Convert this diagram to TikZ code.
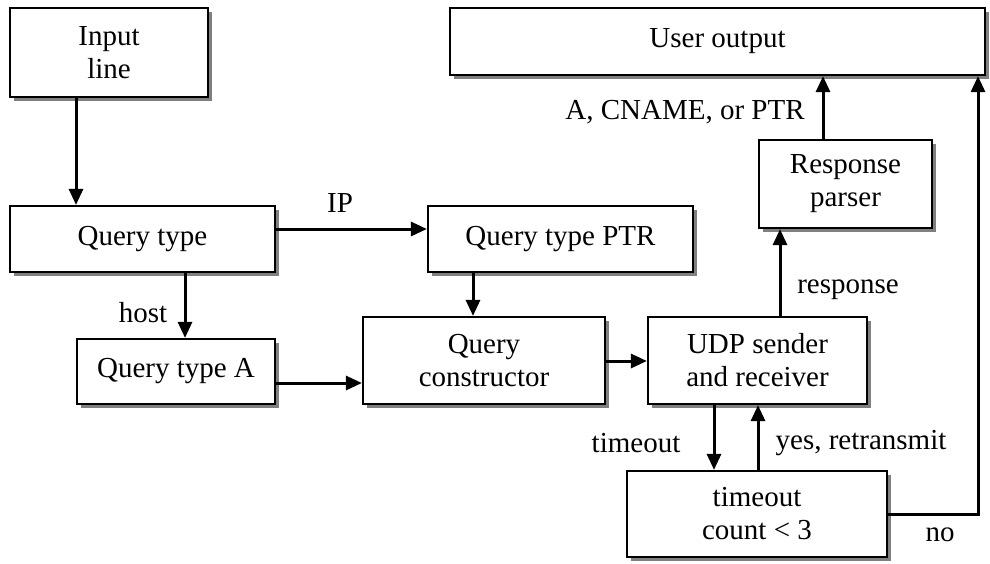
\documentclass[tikz,border=0pt]{standalone}
\usepackage{fontspec}
\setmainfont{Liberation Serif}
\usetikzlibrary{arrows.meta, shadows}

\begin{document}
\begin{tikzpicture}[x=1pt, y=-1pt, font=\fontsize{29}{33}\selectfont,
    blk/.style={draw, line width=2.2pt, fill=white, align=center, inner sep=0pt,
      drop shadow={shadow xshift=4pt, shadow yshift=-4pt, fill=black!50, opacity=1}},
    arr/.style={line width=3pt, -{Triangle[length=16pt, width=14pt]}},
    lbl/.style={inner sep=0pt}]
    \useasboundingbox (0,0) rectangle (990,563);
    \node[blk, minimum width=198pt, minimum height=89pt] (inp)   at (109,52.5)  {Input\\line};
    \node[blk, minimum width=535pt, minimum height=67pt] (uout)  at (717.5,41.5) {User output};
    \node[blk, minimum width=265pt, minimum height=66pt] (qtype) at (142.5,239) {Query type};
    \node[blk, minimum width=265pt, minimum height=66pt] (ptr)   at (560.5,239) {Query type PTR};
    \node[blk, minimum width=173pt, minimum height=88pt] (resp)  at (845.5,184) {Response\\parser};
    \node[blk, minimum width=198pt, minimum height=65pt] (qa)    at (176,371.5) {Query type A};
    \node[blk, minimum width=242pt, minimum height=87pt] (qcons) at (484,360.5) {Query\\constructor};
    \node[blk, minimum width=219pt, minimum height=87pt] (udp)   at (757.5,360.5) {UDP sender\\and receiver};
    \node[blk, minimum width=260pt, minimum height=86pt] (tout)  at (757,514) {timeout\\count < 3};
    % labels
    \node[lbl] (ipl)   at (340,203) {IP};
    \node[lbl] (hostl) at (143,313) {host};
    \node[lbl] (rrl)   at (685,112) {A, CNAME, or PTR};
    \node[lbl] (respl) at (848,290) {response};
    \node[lbl] (tol)   at (636,443) {timeout};
    \node[lbl] (yesl)  at (861,443) {yes, retransmit};
    \node[lbl] (nol)   at (940,535) {no};
    % connectors
    \draw[arr] (inp.south -| 76,0) -- (qtype.north -| 76,0);
    \draw[arr] (qtype.east |- 0,229) -- (ptr.west |- 0,229);
    \draw[arr] (qtype.south -| 185,0) -- (qa.north -| 185,0);
    \draw[arr] (qa.east |- 0,383) -- (qcons.west |- 0,383);
    \draw[arr] (ptr.south -| 473,0) -- (qcons.north -| 473,0);
    \draw[arr] (qcons.east |- 0,361) -- (udp.west |- 0,361);
    \draw[arr] (udp.north -| 780,0) -- (resp.south -| 780,0);
    \draw[arr] (resp.north -| 823,0) -- (uout.south -| 823,0);
    \draw[arr] (udp.south -| 714,0) -- (tout.north -| 714,0);
    \draw[arr] (tout.north -| 758,0) -- (udp.south -| 758,0);
    \draw[arr] (tout.east |- 0,514) -| (uout.south -| 978,0);
\end{tikzpicture}
\end{document}
